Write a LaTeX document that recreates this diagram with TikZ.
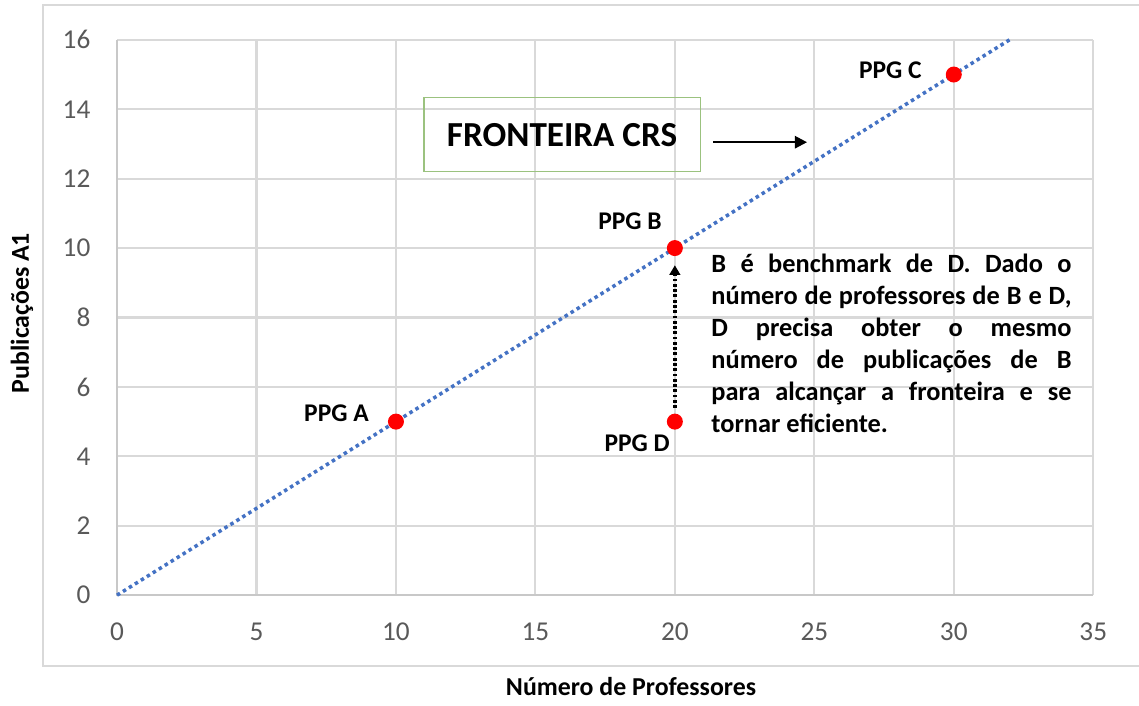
\documentclass[tikz,border=0pt]{standalone}
\usepackage{fontspec}
\setmainfont{Carlito}
\usetikzlibrary{arrows.meta}

\definecolor{gridgray}{HTML}{D9D9D9}
\definecolor{axisgray}{HTML}{C8C8C8}
\definecolor{ticktext}{HTML}{595959}
\definecolor{frontblue}{HTML}{4472C4}
\definecolor{boxgreen}{HTML}{9BC27F}

\tikzset{
    ppg/.style={circle,fill=red,inner sep=0pt,minimum size=0.32cm},
    ppglabel/.style={font=\bfseries\fontsize{14.5}{17}\selectfont,inner sep=0pt,anchor=east},
    ticklabel/.style={font=\fontsize{15.5}{18}\selectfont,text=ticktext,inner sep=0pt},
    axistitle/.style={font=\bfseries\fontsize{14.7}{17}\selectfont,inner sep=0pt},
}

\begin{document}
\begin{tikzpicture}[x=0.5577cm,y=0.694cm]
    \useasboundingbox (-4.195,-3.170) rectangle (36.64,17.147);

    % chart frame
    \draw[gridgray,line width=1.2pt] (-2.653,-2.046) rectangle (37,17.003);

    % grid
    \foreach \x in {5,10,...,35}{
        \draw[gridgray,line width=1.2pt] (\x,0) -- (\x,16);
    }
    \foreach \y in {2,4,...,16}{
        \draw[gridgray,line width=1.2pt] (0,\y) -- (35,\y);
    }

    % axis
    \draw[axisgray,line width=1.2pt] (0,16) -- (0,0) -- (35,0);

    \foreach \x in {0,5,...,35}{
        \node[ticklabel] (tx\x) at (\x,-1.066) {\x};
    }
    \foreach \y in {0,2,...,16}{
        \node[ticklabel,anchor=east] (ty\y) at (-0.943,\y) {\y};
    }
    \node[axistitle,anchor=base] (xtitle) at (18.43,-2.88) {Número de Professores};
    \node[axistitle,rotate=90] (ytitle) at (-3.41,8.13) {Publicações A1};

    % frontier
    \draw[frontblue,line width=2pt,dash pattern=on 2pt off 2pt] (0,0) -- (32,16);

    % units
    \node[ppg] (A) at (10,5) {};
    \node[ppg] (B) at (20,10) {};
    \node[ppg] (C) at (30,15) {};
    \node[ppg] (D) at (20,5) {};
    \node[ppglabel] (labA) at (9.04,5.245) {PPG A};
    \node[ppglabel] (labB) at (19.54,10.78) {PPG B};
    \node[ppglabel] (labC) at (28.86,15.13) {PPG C};
    \node[ppglabel] (labD) at (19.83,4.39) {PPG D};

    % D up to B
    \draw[line width=2pt,dash pattern=on 1.6pt off 1.4pt,-{Triangle[length=5.5pt,width=6pt]},
          shorten <=3pt,shorten >=5pt] (D) -- (B);

    % frontier label
    \node[draw=boxgreen,line width=0.6pt,minimum width=5.52cm,minimum height=1.48cm,
          font=\bfseries\fontsize{20}{24}\selectfont] (crs) at (15.955,13.26) {FRONTEIRA CRS};
    \coordinate (crstail) at (21.37,13.05);
    \coordinate (crstip) at (24.74,13.05);
    \draw[line width=1.3pt,-{Triangle[length=7pt,width=7pt]}] (crstail) -- (crstip);

    % note
    \node[anchor=north west,text width=7.2cm,align=justify,inner sep=0pt,
          font=\bfseries\fontsize{15}{18.2}\selectfont] (note) at (21.30,9.85)
        {B é benchmark de D. Dado o\linebreak
         número de professores de B e D,\linebreak
         D precisa obter o mesmo\linebreak
         número de publicações de B\linebreak
         para alcançar a fronteira e se\linebreak
         tornar eficiente.};
\end{tikzpicture}
\end{document}
